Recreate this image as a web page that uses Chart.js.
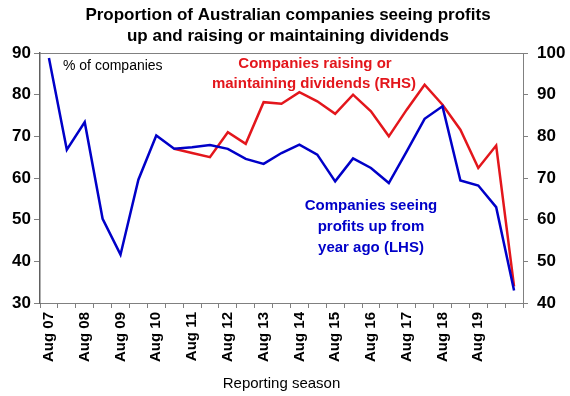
<!DOCTYPE html>
<html>
<head>
<meta charset="utf-8">
<script src="https://cdn.jsdelivr.net/npm/chart.js@4"></script>
<style>
  body { margin: 0; background: #fff; }
  canvas { display: block; }
</style>
</head>
<body>
<canvas id="chart" width="570" height="396"></canvas>
<script>
const categories = ['Aug 07', 'Feb 08', 'Aug 08', 'Feb 09', 'Aug 09', 'Feb 10', 'Aug 10', 'Feb 11', 'Aug 11',
  'Feb 12', 'Aug 12', 'Feb 13', 'Aug 13', 'Feb 14', 'Aug 14', 'Feb 15', 'Aug 15', 'Feb 16', 'Aug 16',
  'Feb 17', 'Aug 17', 'Feb 18', 'Aug 18', 'Feb 19', 'Aug 19', 'Feb 20', 'Aug 20'];
const tickLabels = ['Aug 07', '', 'Aug 08', '', 'Aug 09', '', 'Aug 10', '', 'Aug 11', '', 'Aug 12', '', 'Aug 13', '',
  'Aug 14', '', 'Aug 15', '', 'Aug 16', '', 'Aug 17', '', 'Aug 18', '', 'Aug 19', '', ''];

// LHS, % of companies seeing profits up from year ago
const profitsUp = [88.8, 66.8, 73.4, 50.2, 41.6, 59.6, 70.2, 67, 67.4, 67.9, 67, 64.6, 63.4, 66,
  68, 65.6, 59.2, 64.7, 62.4, 58.8, 66.4, 74.2, 77.2, 59.4, 58.2, 53, 33];
// RHS, % of companies raising or maintaining dividends
const dividends = [null, null, null, null, null, null, null, 77, 76, 75, 81, 78.2, 88.2, 87.8,
  90.6, 88.4, 85.4, 90, 86, 80, 86.4, 92.4, 87.6, 81.6, 72.4, 77.8, 44];

const FONT = '"Liberation Sans", Arial, sans-serif';
const RED = '#e3161c';
const BLUE = '#0000c8';

// title, notes and top border of the plot box
const notesPlugin = {
  id: 'notes',
  afterDraw(chart) {
    const ctx = chart.ctx;
    const area = chart.chartArea;
    ctx.save();
    ctx.strokeStyle = '#808080';
    ctx.lineWidth = 1;
    ctx.beginPath();
    ctx.moveTo(area.left, area.top + 0.5);
    ctx.lineTo(area.right, area.top + 0.5);
    ctx.stroke();

    ctx.textAlign = 'center';
    ctx.textBaseline = 'alphabetic';
    ctx.fillStyle = '#000';
    ctx.font = 'bold 17px ' + FONT;
    ctx.fillText('Proportion of Australian companies seeing profits', 288, 20);
    ctx.fillText('up and raising or maintaining dividends', 288, 41);

    ctx.textAlign = 'left';
    ctx.font = '14px ' + FONT;
    ctx.fillText('% of companies', 63, 70);

    ctx.textAlign = 'center';
    ctx.font = 'bold 15px ' + FONT;
    ctx.fillStyle = RED;
    ctx.fillText('Companies raising or', 315, 68);
    ctx.fillText('maintaining dividends (RHS)', 314, 88);

    ctx.fillStyle = BLUE;
    ctx.fillText('Companies seeing', 371, 210);
    ctx.fillText('profits up from', 371, 231);
    ctx.fillText('year ago (LHS)', 371, 252);
    ctx.restore();
  }
};

new Chart(document.getElementById('chart'), {
  type: 'line',
  data: {
    labels: categories,
    datasets: [
      {
        label: 'Companies seeing profits up from year ago (LHS)',
        data: profitsUp,
        yAxisID: 'y',
        borderColor: BLUE,
        borderWidth: 2.5,
        pointRadius: 0,
        tension: 0
      },
      {
        label: 'Companies raising or maintaining dividends (RHS)',
        data: dividends,
        yAxisID: 'y1',
        borderColor: RED,
        borderWidth: 2.5,
        pointRadius: 0,
        tension: 0,
        spanGaps: false
      }
    ]
  },
  options: {
    responsive: false,
    animation: false,
    layout: { padding: { top: 53, left: 0, right: 0, bottom: 0 } },
    plugins: {
      legend: { display: false },
      title: { display: false },
      tooltip: { enabled: false }
    },
    scales: {
      x: {
        offset: true,
        afterFit(scale) { scale.height = 93; },
        grid: { offset: true, drawOnChartArea: false, drawTicks: true, tickLength: 5, color: '#808080' },
        border: { color: '#808080', width: 1 },
        ticks: {
          autoSkip: false,
          maxRotation: 90,
          minRotation: 90,
          padding: 4,
          color: '#000',
          font: { family: FONT, size: 15, weight: 'bold' },
          callback: (value, index) => tickLabels[index]
        },
        title: {
          display: true,
          text: 'Reporting season',
          color: '#000',
          font: { family: FONT, size: 15 },
          padding: { top: 0, bottom: 3 }
        }
      },
      y: {
        position: 'left',
        min: 30,
        max: 90,
        afterFit(scale) { scale.width = 40; },
        grid: { drawOnChartArea: false, tickLength: 6, color: '#808080' },
        border: { color: '#606060', width: 1.5 },
        ticks: {
          stepSize: 10,
          padding: 3,
          color: '#000',
          font: { family: FONT, size: 17, weight: 'bold' }
        }
      },
      y1: {
        position: 'right',
        min: 40,
        max: 100,
        afterFit(scale) { scale.width = 47; },
        grid: { drawOnChartArea: false, tickLength: 5, color: '#808080' },
        border: { color: '#808080', width: 1 },
        ticks: {
          stepSize: 10,
          padding: 9,
          color: '#000',
          font: { family: FONT, size: 17, weight: 'bold' }
        }
      }
    }
  },
  plugins: [notesPlugin]
});
</script>
</body>
</html>
